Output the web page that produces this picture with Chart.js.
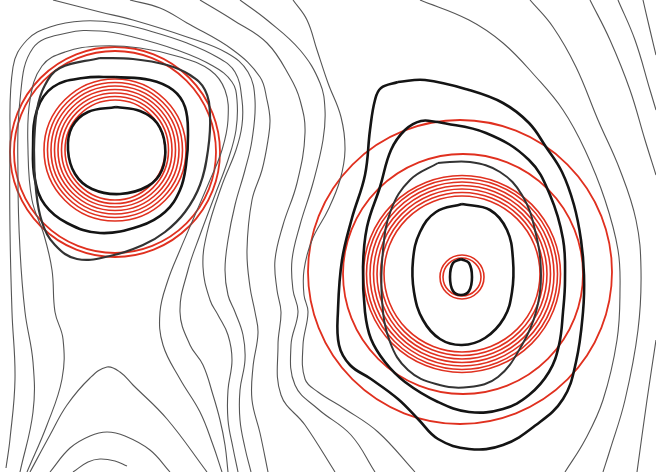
<!DOCTYPE html>
<html>
<head>
<meta charset="utf-8">
<script src="https://cdn.jsdelivr.net/npm/chart.js@4"></script>
<style>
html,body{margin:0;padding:0;background:#fff;}
#wrap{width:656px;height:472px;}
</style>
</head>
<body>
<div id="wrap"><canvas id="c" width="656" height="472"></canvas></div>
<script>
// ---- red circle contours (centre + radii) ----
const leftBandCenter = [115, 150];
const leftBandRadii = [50, 53.5, 57, 60.5, 64, 67.5, 71];
const leftOuterCenter = [115, 152];
const leftOuterRadii = [101, 105];
const rightBandCenter = [462, 274];
const rightBandRadii = [78, 81.5, 85, 88.5, 92, 95.5, 98.5];
const rightSmallCenter = [462, 277];
const rightSmallRadii = [19, 22];
const rightMidCenter = [463, 274];
const rightMidRadii = [120];
const rightBigCenter = [460, 272];
const rightBigRadii = [152];

// ---- thick black contours ----
const K1 = [[116,107],[140,111],[157,123],[165,145],[162,170],[148,186],[120,194],[92,189],[75,174],[68,150],[72,127],[88,112],[116,107]];
const K2 = [[115,77],[150,80],[173,90],[185,107],[188,135],[186,165],[180,190],[165,212],[140,226],[100,233],[67,223],[45,205],[35,180],[33,150],[37,110],[53,87],[83,78],[115,77]];
const K3 = [[100,58],[133,59],[167,65],[190,75],[205,90],[210,115],[208,150],[200,185],[185,212],[165,232],[143,245],[110,256],[77,259],[55,245],[42,222],[36,190],[34,150],[37,110],[45,85],[60,68],[100,58]];
const RB1 = [[461,259],[469,263],[472,277],[469,291],[461,295],[453,291],[450,277],[453,263],[461,259]];
const RB2 = [[462,204],[490,210],[507,230],[513,260],[512,292],[504,318],[485,338],[462,345],[440,339],[423,320],[414,292],[413,260],[420,232],[436,212],[462,204]];
const RB3 = [[438,163],[470,162],[500,172],[522,195],[535,230],[541,275],[536,312],[522,345],[498,377],[469,387],[436,384],[408,370],[390,342],[382,300],[383,250],[391,210],[410,180],[438,163]];
const RB4 = [[438,122],[486,133],[529,160],[550,195],[563,239],[565,280],[563,312],[559,345],[549,372],[529,395],[503,409],[469,412],[438,402],[405,382],[385,362],[371,339],[365,312],[363,267],[367,227],[380,187],[391,150],[405,130],[421,121],[438,122]];
const RB5 = [[398,82],[425,80],[469,90],[503,103],[529,123],[546,147],[562,172],[574,205],[581,240],[584,275],[583,312],[576,362],[563,399],[536,425],[503,445],[469,449],[438,439],[418,419],[398,399],[371,379],[350,365],[339,345],[338,310],[342,260],[352,218],[365,175],[370,130],[375,100],[381,88],[398,82]];

// ---- thin contours ----
const F = [[6,468],[10,439],[15,379],[12,312],[10,230],[10,150],[13,67],[27,40],[50,27],[83,21],[117,23],[150,31],[187,43],[217,57],[235,72],[242,100],[242,125],[236,150],[222,185],[207,233],[203,267],[210,300],[218,315],[228,335],[232,360],[228,390],[228,420],[233,448],[238,472]];
const G = [[20,472],[33,412],[33,362],[25,312],[20,250],[18,180],[20,100],[33,48],[67,33],[100,31],[133,37],[177,50],[213,66],[232,82],[237,100],[236,130],[228,160],[215,195],[200,235],[188,270],[180,312],[190,345],[203,365],[213,395],[220,420],[225,445],[228,472]];
const H = [[27,472],[47,425],[62,379],[63,339],[55,312],[52,270],[44,235],[32,200],[28,150],[30,100],[42,66],[65,52],[100,46],[140,48],[180,57],[210,70],[225,90],[228,120],[222,150],[210,180],[195,215],[180,250],[168,280],[160,312],[163,345],[180,379],[200,412],[213,445],[222,472]];
const A = [[53,0],[100,12],[133,20],[187,37],[227,53],[248,72],[255,100],[252,140],[245,170],[235,205],[228,240],[225,270],[228,295],[235,312],[243,335],[245,360],[240,390],[240,420],[245,448],[251,472]];
const B = [[130,0],[160,8],[187,23],[233,50],[260,77],[267,100],[270,120],[268,140],[262,170],[252,200],[247,250],[250,287],[255,312],[258,333],[253,367],[252,400],[260,433],[268,472]];
const C = [[200,0],[233,20],[267,43],[290,77],[300,100],[305,133],[297,183],[283,225],[275,260],[277,290],[281,312],[278,345],[281,395],[305,425],[335,472]];
const D = [[240,0],[267,20],[300,50],[320,83],[325,110],[323,140],[313,183],[300,225],[292,260],[293,290],[298,312],[291,345],[295,385],[318,409],[351,435],[375,472]];
const E = [[293,0],[307,20],[317,50],[328,83],[341,117],[345,150],[340,180],[328,210],[312,240],[304,270],[304,295],[308,312],[303,345],[305,379],[318,392],[345,409],[378,432],[415,472]];
const S0 = [[420,0],[469,20],[503,43],[536,77],[563,110],[585,150],[605,200],[618,250],[620,290],[617,340],[603,400],[585,440],[565,472]];
const S1 = [[530,0],[553,27],[576,67],[598,120],[620,170],[636,220],[641,270],[638,330],[625,400],[610,450],[603,472]];
const S2 = [[590,0],[610,40],[630,90],[645,140],[656,175]];
const S3 = [[618,0],[635,40],[650,90],[656,110]];
const S4 = [[643,0],[650,30],[656,55]];
const S5 = [[656,340],[647,400],[637,472]];
const hill1 = [[30,472],[50,435],[67,405],[90,378],[107,367],[120,372],[133,385],[167,419],[207,472]];
const hill2 = [[50,472],[70,448],[90,436],[107,432],[125,436],[150,450],[170,472]];
const hill3 = [[73,472],[88,462],[100,459],[115,461],[127,466]];

// ---- build datasets ----
const toXY = arr => arr.map(p => ({x: p[0], y: p[1]}));
const RED = '#e0301f';
const ds = [];
function line(arr, color, width) {
  ds.push({type: 'scatter', data: toXY(arr), showLine: true, pointRadius: 0, borderColor: color, borderWidth: width, tension: 0.4, fill: false, clip: false});
}
function circles(center, radii, width) {
  ds.push({type: 'bubble', data: radii.map(r => ({x: center[0], y: center[1], r: r})), backgroundColor: 'rgba(0,0,0,0)', borderColor: RED, borderWidth: width, hoverRadius: 0, clip: false});
}
[F, G, H, A, B, C, D, E, S0, S1, S2, S3, S4, S5, hill1, hill2, hill3].forEach(a => line(a, '#555', 1.1));
line(K3, '#333', 2.2);
line(RB3, '#333', 2.0);
[K1, K2, RB1, RB2, RB4, RB5].forEach(a => line(a, '#141414', 2.6));
circles(leftBandCenter, leftBandRadii, 1.6);
circles(leftOuterCenter, leftOuterRadii, 1.8);
circles(rightBandCenter, rightBandRadii, 1.6);
circles(rightSmallCenter, rightSmallRadii, 1.6);
circles(rightMidCenter, rightMidRadii, 1.8);
circles(rightBigCenter, rightBigRadii, 1.8);

new Chart(document.getElementById('c'), {
  type: 'scatter',
  data: {datasets: ds},
  options: {
    responsive: false,
    animation: false,
    events: [],
    layout: {autoPadding: false, padding: 0},
    plugins: {legend: {display: false}, tooltip: {enabled: false}},
    scales: {
      x: {type: 'linear', min: 0, max: 656, display: false},
      y: {type: 'linear', min: 0, max: 472, reverse: true, display: false}
    }
  }
});
</script>
</body>
</html>
